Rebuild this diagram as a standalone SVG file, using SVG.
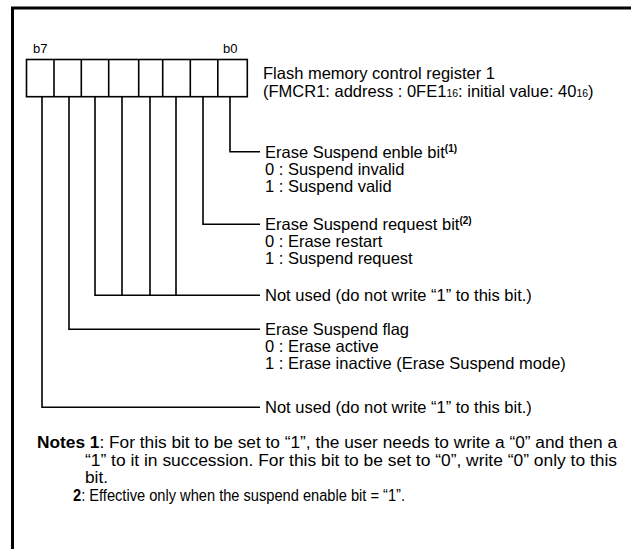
<svg xmlns="http://www.w3.org/2000/svg" width="631" height="549" viewBox="0 0 631 549">
<style>
.t{font-family:"Liberation Sans",Arial,sans-serif;font-size:16.5px;fill:#000}
.s{font-family:"Liberation Sans",Arial,sans-serif;font-size:13px;fill:#000}
.sub{font-size:10.5px}
.sup{font-size:10px;font-weight:bold}
.ln{fill:none;stroke:#000;stroke-width:1.6}
.fr{fill:none;stroke:#000;stroke-width:3}
.n{font-family:"Liberation Sans",Arial,sans-serif;font-size:16px;fill:#000}
</style>
<rect width="631" height="549" fill="#fff"/>
<path class="fr" d="M12.5 549 V8 H631"/>
<g id="register">
<rect class="ln" x="26.5" y="59.5" width="220.8" height="37.2" fill="#fff"/>
<path class="ln" d="M54 59.5V96.7M81.3 59.5V96.7M108.7 59.5V96.7M138.7 59.5V96.7M162.7 59.5V96.7M190.3 59.5V96.7M217.8 59.5V96.7"/>
<text class="s" x="33" y="53">b7</text>
<text class="s" x="223" y="53">b0</text>
<text class="t" x="263" y="79">Flash memory control register 1</text>
<text class="t" x="263" y="97">(FMCR1: address : 0FE1<tspan class="sub">16</tspan>: initial value: 40<tspan class="sub">16</tspan>)</text>
</g>
<g id="connectors">
<path class="ln" d="M230 96.7V151.7H260"/>
<path class="ln" d="M203 96.7V224.3H260"/>
<path class="ln" d="M95 96.7V295.3H260M122 96.7V295.3M150 96.7V295.3M176 96.7V295.3"/>
<path class="ln" d="M69 96.7V329.3H260"/>
<path class="ln" d="M42 96.7V407.3H260"/>
</g>
<g id="b0">
<text class="t" x="265" y="157.5">Erase Suspend enble bit<tspan class="sup" dy="-6">(1)</tspan></text>
<text class="t" x="265" y="174.5">0 : Suspend invalid</text>
<text class="t" x="265" y="191.5">1 : Suspend valid</text>
</g>
<g id="b1">
<text class="t" x="265" y="230">Erase Suspend request bit<tspan class="sup" dy="-6">(2)</tspan></text>
<text class="t" x="265" y="247">0 : Erase restart</text>
<text class="t" x="265" y="264">1 : Suspend request</text>
</g>
<g id="b2to5">
<text class="t" x="265" y="301">Not used (do not write “1” to this bit.)</text>
</g>
<g id="b6">
<text class="t" x="265" y="335">Erase Suspend flag</text>
<text class="t" x="265" y="352">0 : Erase active</text>
<text class="t" x="265" y="369">1 : Erase inactive (Erase Suspend mode)</text>
</g>
<g id="b7">
<text class="t" x="265" y="413">Not used (do not write “1” to this bit.)</text>
</g>
<g id="notes">
<text class="n" x="37" y="448" textLength="580" lengthAdjust="spacingAndGlyphs"><tspan font-weight="bold">Notes 1</tspan>: For this bit to be set to “1”, the user needs to write a “0” and then a</text>
<text class="n" x="85" y="466" textLength="532" lengthAdjust="spacingAndGlyphs">“1” to it in succession. For this bit to be set to “0”, write “0” only to this</text>
<text class="n" x="85" y="483" textLength="23" lengthAdjust="spacingAndGlyphs">bit.</text>
<text class="n" x="73" y="501" textLength="332" lengthAdjust="spacingAndGlyphs"><tspan font-weight="bold">2</tspan>: Effective only when the suspend enable bit = “1”.</text>
</g>
</svg>
